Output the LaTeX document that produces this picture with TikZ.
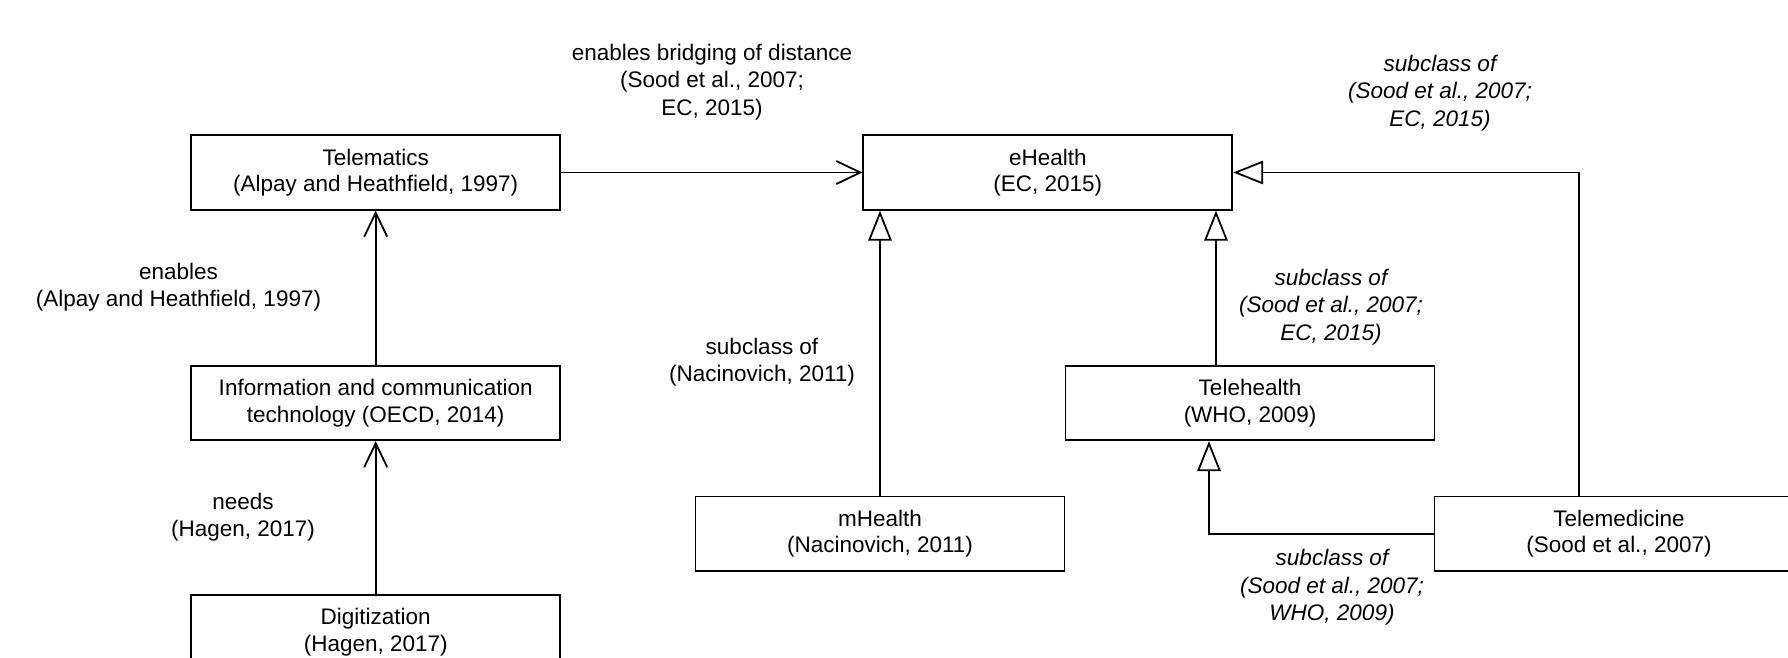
\documentclass[tikz,border=0pt]{standalone}
\usepackage{fontspec}
\setmainfont{Liberation Sans}
\usetikzlibrary{arrows.meta}
\tikzset{
  box/.style={draw, line width=1.8pt, minimum width=369pt, minimum height=74.5pt, inner sep=0pt, align=center, font=\fontsize{22.5}{26.5}\selectfont},
  lbl/.style={inner sep=0pt, align=center, font=\fontsize{22.5}{27.5}\selectfont},
  ilbl/.style={lbl, font=\fontsize{22.5}{27.5}\selectfont\itshape},
  conn/.style={line width=1.8pt},
  openarr/.style={conn, -{Straight Barb[length=24pt, width=23pt]}},
  triarr/.style={conn, -{Triangle[open, length=30pt, width=23.5pt]}}
}
\begin{document}
\begin{tikzpicture}[x=1pt, y=-1pt]
\useasboundingbox (0,0) rectangle (1788,658);
\clip (0,0) rectangle (1788,658);
\node[box] (tel) at (375.7,172.5) {Telematics\\(Alpay and Heathfield, 1997)};
\node[box] (ehealth) at (1047.8,172.5) {eHealth\\(EC, 2015)};
\node[box] (ict) at (375.7,403) {Information and communication\\technology (OECD, 2014)};
\node[box] (dig) at (375.7,632.3) {Digitization\\(Hagen, 2017)};
\node[box] (mhealth) at (880,533.7) {mHealth\\(Nacinovich, 2011)};
\node[box] (telehealth) at (1250,403) {Telehealth\\(WHO, 2009)};
\node[box] (telemed) at (1619,533.7) {Telemedicine\\(Sood et al., 2007)};

\coordinate (a1) at ([xshift=-34pt]telehealth.north);
\coordinate (b1) at ([xshift=-40pt]telemed.north);
\coordinate (c1) at ([xshift=-41pt]telehealth.south);

\draw[openarr] (tel.east) -- (ehealth.west);
\draw[openarr] (ict.north) -- (tel.south);
\draw[openarr] (dig.north) -- (ict.south);
\draw[triarr] (mhealth.north) -- (mhealth.north |- ehealth.south);
\draw[triarr] (a1) -- (a1 |- ehealth.south);
\draw[triarr] (b1) |- (ehealth.east);
\draw[triarr] (telemed.west) -| (c1);

\node[lbl] (l1) at (712,82) {enables bridging of distance\\(Sood et al., 2007;\\EC, 2015)};
\node[ilbl] (l2) at (1440,93) {subclass of\\(Sood et al., 2007;\\EC, 2015)};
\node[lbl] (l3) at (178.5,287) {enables\\(Alpay and Heathfield, 1997)};
\node[lbl] (l4) at (762,362) {subclass of\\(Nacinovich, 2011)};
\node[ilbl] (l5) at (1331,306.7) {subclass of\\(Sood et al., 2007;\\EC, 2015)};
\node[lbl] (l6) at (243,517) {needs\\(Hagen, 2017)};
\node[ilbl] (l7) at (1332,587.5) {subclass of\\(Sood et al., 2007;\\WHO, 2009)};
\end{tikzpicture}
\end{document}
